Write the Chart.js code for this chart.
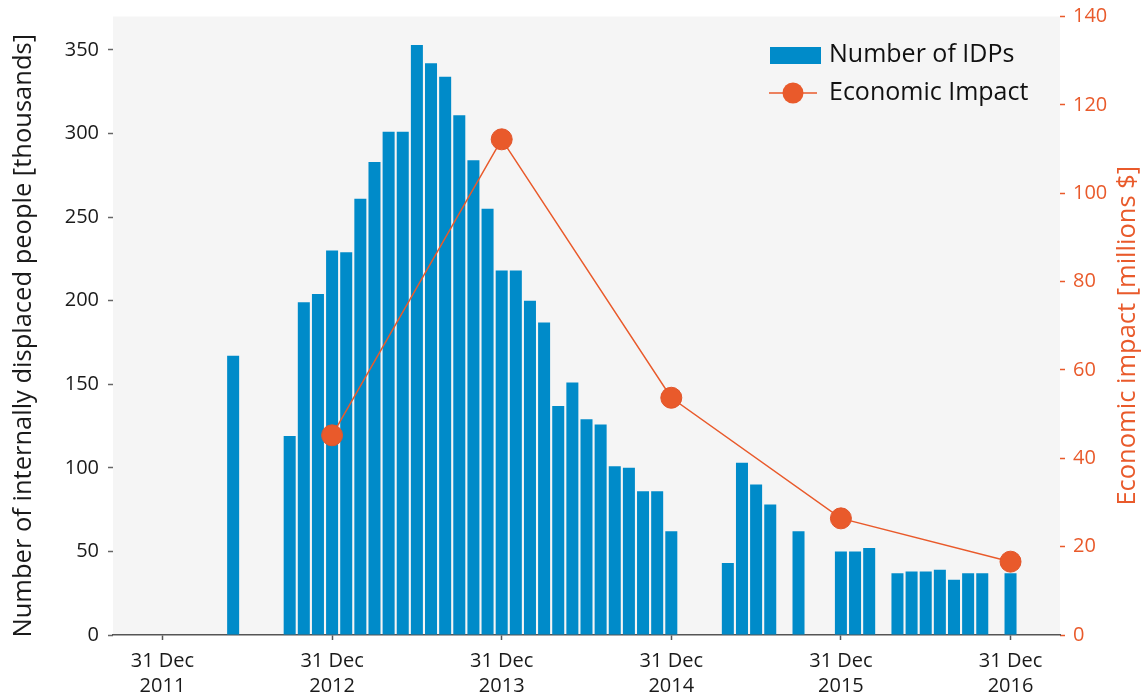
<!DOCTYPE html>
<html>
<head>
<meta charset="utf-8">
<script src="https://cdn.jsdelivr.net/npm/chart.js@4.4.1/dist/chart.umd.min.js"></script>
<style>
  html, body { margin: 0; padding: 0; background: #fff; }
  canvas { display: block; }
</style>
</head>
<body>
<canvas id="idpChart" width="1144" height="698"></canvas>
<script>
// months from 31 Dec 2011 to 31 Dec 2016 (index 0 = Dec 2011)
const monthNames = ['Jan', 'Feb', 'Mar', 'Apr', 'May', 'Jun', 'Jul', 'Aug', 'Sep', 'Oct', 'Nov', 'Dec'];
const years = [2012, 2013, 2014, 2015, 2016];
const months = ['Dec 2011'];
years.forEach(y => monthNames.forEach(m => months.push(m + ' ' + y)));

// IDPs [thousands], one per month, null = no report
const idps = [
    null,
    null, null, null, null, 167, null, null, null, 119, 199, 204, 230,   // 2012
    229, 261, 283, 301, 301, 353, 342, 334, 311, 284, 255, 218,          // 2013
    218, 200, 187, 137, 151, 129, 126, 101, 100, 86, 86, 62,             // 2014
    null, null, null, 43, 103, 90, 78, null, 62, null, null, 50,         // 2015
    50, 52, null, 37, 38, 38, 39, 33, 37, 37, null, 37                   // 2016
];

// economic impact [millions $]
const impactMonths = ['Dec 2012', 'Dec 2013', 'Dec 2014', 'Dec 2015', 'Dec 2016'];
const impact = [45.2, 112.2, 53.7, 26.4, 16.6];

const leftTicks = [0, 50, 100, 150, 200, 250, 300, 350];
const rightTicks = [0, 20, 40, 60, 80, 100, 120, 140];

const BLUE = '#008BC9';
const ORANGE = '#E95A2B';
const FONT = '"Open Sans", "Noto Sans", sans-serif';

const barPoints = idps.map((v, i) => ({ x: i, y: v }));
const linePoints = impactMonths.map((m, i) => ({ x: months.indexOf(m), y: impact[i] }));
const decTicks = months.map((m, i) => m.startsWith('Dec') ? i : null).filter(i => i !== null);

const plotBackground = {
    id: 'plotBackground',
    beforeDraw(chart) {
        const { ctx, chartArea: a } = chart;
        ctx.save();
        ctx.fillStyle = '#F5F5F5';
        ctx.fillRect(a.left, a.top, a.right - a.left, a.bottom - a.top);
        ctx.restore();
    }
};

const titlesAndLegend = {
    id: 'titlesAndLegend',
    afterDraw(chart) {
        const { ctx, chartArea: a } = chart;
        const midY = (a.top + a.bottom) / 2 + 10;
        ctx.save();
        ctx.textAlign = 'center';
        ctx.textBaseline = 'middle';
        ctx.font = '25.5px ' + FONT;

        // left axis title
        ctx.fillStyle = '#1a1a1a';
        ctx.save();
        ctx.translate(24, midY);
        ctx.rotate(-Math.PI / 2);
        ctx.fillText('Number of internally displaced people [thousands]', 0, 0);
        ctx.restore();

        // right axis title
        ctx.fillStyle = ORANGE;
        ctx.save();
        ctx.translate(chart.width - 16, midY);
        ctx.rotate(-Math.PI / 2);
        ctx.fillText('Economic impact [millions $]', 0, 0);
        ctx.restore();

        // legend
        const lx = a.right - 290;
        const ds = chart.data.datasets;
        ctx.textAlign = 'left';
        ctx.font = '25px ' + FONT;
        ctx.fillStyle = BLUE;
        ctx.fillRect(lx, a.top + 30.5, 51, 17);
        ctx.fillStyle = '#111';
        ctx.fillText(ds[1].label, lx + 59, a.top + 38.5);

        ctx.strokeStyle = ORANGE;
        ctx.lineWidth = 1.5;
        ctx.beginPath();
        ctx.moveTo(lx - 1, a.top + 76.5);
        ctx.lineTo(lx + 47, a.top + 76.5);
        ctx.stroke();
        ctx.fillStyle = ORANGE;
        ctx.beginPath();
        ctx.arc(lx + 23, a.top + 76.5, 10.5, 0, Math.PI * 2);
        ctx.fill();
        ctx.fillStyle = '#111';
        ctx.fillText(ds[0].label, lx + 59, a.top + 76.5);
        ctx.restore();
    }
};

const noVerticalPadding = s => { s.paddingTop = 0; s.paddingBottom = 0; };

const ctx = document.getElementById('idpChart');
new Chart(ctx, {
    type: 'bar',
    data: {
        datasets: [{
            type: 'line',
            label: 'Economic Impact',
            data: linePoints,
            yAxisID: 'y2',
            borderColor: ORANGE,
            borderWidth: 1.5,
            pointRadius: 10.5,
            pointBackgroundColor: ORANGE,
            pointBorderColor: '#E2552A',
            pointBorderWidth: 1,
            tension: 0,
            order: 0
        }, {
            type: 'bar',
            label: 'Number of IDPs',
            data: barPoints,
            yAxisID: 'y',
            backgroundColor: BLUE,
            barPercentage: 0.85,
            categoryPercentage: 1,
            order: 1
        }]
    },
    options: {
        responsive: false,
        animation: false,
        devicePixelRatio: 1,
        layout: { padding: { top: 16.5 } },
        plugins: {
            legend: { display: false },
            tooltip: { enabled: false }
        },
        scales: {
            x: {
                type: 'linear',
                offset: false,
                min: -3.5,
                max: 63.5,
                afterBuildTicks: s => { s.ticks = decTicks.map(v => ({ value: v })); },
                afterFit: s => { s.height = 63; },
                grid: { offset: false, drawOnChartArea: false, tickLength: 5, tickColor: '#555', tickWidth: 1.5 },
                border: { color: '#555', width: 1.5 },
                ticks: {
                    autoSkip: false,
                    maxRotation: 0,
                    padding: 9,
                    color: '#1a1a1a',
                    font: { family: FONT, size: 20, lineHeight: 1.25 },
                    callback: v => ['31 Dec', months[v].split(' ')[1]]
                }
            },
            y: {
                position: 'left',
                min: 0,
                max: 370,
                afterBuildTicks: s => { s.ticks = leftTicks.map(v => ({ value: v })); },
                afterFit: s => { s.width = 113; noVerticalPadding(s); },
                grid: { drawOnChartArea: false, tickLength: 5, tickColor: '#666', tickWidth: 1.5 },
                border: { display: false },
                ticks: {
                    padding: 9,
                    color: '#1a1a1a',
                    font: { family: FONT, size: 20 }
                }
            },
            y2: {
                position: 'right',
                min: 0,
                max: 140,
                afterBuildTicks: s => { s.ticks = rightTicks.map(v => ({ value: v })); },
                afterFit: s => { s.width = 84; noVerticalPadding(s); },
                grid: { drawOnChartArea: false, tickLength: 5, tickColor: ORANGE, tickWidth: 1.5 },
                border: { display: false },
                ticks: {
                    padding: 8,
                    color: ORANGE,
                    font: { family: FONT, size: 20 }
                }
            }
        }
    },
    plugins: [plotBackground, titlesAndLegend]
});
</script>
</body>
</html>
